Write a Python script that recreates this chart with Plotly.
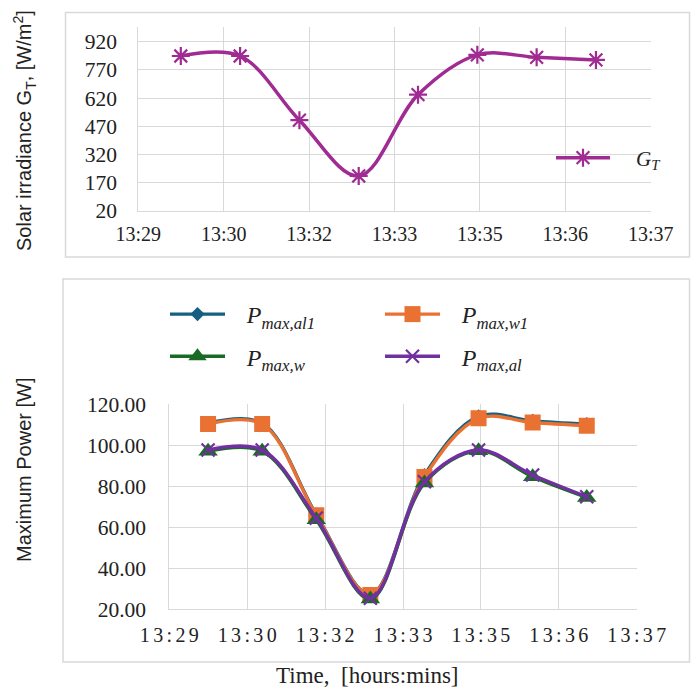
import plotly.graph_objects as go

# ---------------- data ----------------
tick_labels = ["13:29", "13:30", "13:32", "13:33", "13:35", "13:36", "13:37"]
tick_start = "13:28:48"
tick_step_s = 86.4

sample_time = ["13:29:31", "13:30:31", "13:31:31", "13:32:31",
               "13:33:31", "13:34:31", "13:35:31", "13:36:31"]

G_T = [844, 844, 502, 205, 638, 850, 837, 823]

P_max_al1 = [110.6, 110.6, 66.2, 27.3, 85.4, 114.0, 111.8, 110.2]
P_max_w1 = [110.2, 110.2, 65.8, 27.0, 84.5, 113.0, 111.0, 109.4]
P_max_w = [97.0, 97.0, 63.6, 25.0, 81.5, 97.2, 84.6, 74.5]
P_max_al = [97.6, 97.6, 64.4, 25.4, 82.1, 97.6, 85.4, 74.8]


def to_s(t):
    h, m, s = [int(v) for v in t.split(":")]
    return h * 3600 + m * 60 + s


t0 = to_s(tick_start)
x_vals = [to_s(t) - t0 for t in sample_time]
tick_vals = [i * tick_step_s for i in range(len(tick_labels))]
x_range = [0, tick_vals[-1]]

# ---------------- layout helpers ----------------
W, H = 692, 689


def px(x):
    return x / W


def py(y):
    return 1 - y / H


SERIF = "Liberation Serif"
SANS = "Liberation Sans"
GRID = "#d9d9d9"

fig = go.Figure()

# top chart
fig.add_trace(go.Scatter(
    x=x_vals, y=G_T, mode="lines+markers", name="\u2003<i>G<sub>T</sub></i>",
    line=dict(color="#A02B93", width=3.5, shape="spline", smoothing=1.0),
    marker=dict(symbol="asterisk-open", size=15, color="#A02B93",
                line=dict(color="#A02B93", width=2.2)),
    xaxis="x", yaxis="y", legend="legend"))

# bottom chart
LG = "\u2002\u2009"
specs = [
    (LG + "<i>P<sub>max,al1</sub></i>", P_max_al1, "#156082", "diamond", 11, "legend2", "a"),
    (LG + "<i>P<sub>max,w1</sub></i>", P_max_w1, "#E97132", "square", 16, "legend3", "b"),
    (LG + "<i>P<sub>max,w</sub></i>", P_max_w, "#196B24", "triangle-up", 17, "legend2", "c"),
    (LG + "<i>P<sub>max,al</sub></i>", P_max_al, "#7030A0", "x-thin-open", 13, "legend3", "d"),
]
for name, vals, col, sym, size, leg, grp in specs:
    mk = dict(symbol=sym, size=size, color=col, line=dict(color=col, width=0))
    if sym == "x-thin-open":
        mk["line"] = dict(color=col, width=2.2)
    fig.add_trace(go.Scatter(
        x=x_vals, y=vals, mode="lines+markers", name=name,
        line=dict(color=col, width=3.4, shape="spline", smoothing=1.0),
        marker=mk, xaxis="x2", yaxis="y2", legend=leg, legendgroup=grp))

axis_common = dict(showgrid=True, gridcolor=GRID, gridwidth=1, zeroline=False,
                   showline=True, linecolor=GRID, linewidth=1, automargin=False,
                   tickfont=dict(family=SERIF, size=20, color="#222"))
yfont = dict(family=SERIF, size=21.5, color="#222")

spaced_labels = ["\u2006".join(list(l)) for l in tick_labels]

fig.update_layout(
    width=W, height=H, margin=dict(l=0, r=0, t=0, b=0, autoexpand=False),
    paper_bgcolor="white", plot_bgcolor="white",
    xaxis=dict(domain=[px(138.3), px(650.7)], anchor="y", range=x_range,
               tickvals=tick_vals, ticktext=tick_labels, ticklabelstandoff=5,
               **axis_common),
    yaxis=dict(domain=[py(210.7), py(26.7)], anchor="x", range=[20, 1000],
               tick0=20, dtick=150, ticklabelstandoff=16,
               **{**axis_common, "tickfont": yfont}),
    xaxis2=dict(domain=[px(169.3), px(636.7)], anchor="y2", range=x_range,
                tickvals=tick_vals, ticktext=spaced_labels, ticklabelstandoff=8,
                **axis_common),
    yaxis2=dict(domain=[py(609.3), py(404)], anchor="x2", range=[20, 120],
                tick0=20, dtick=20, tickformat=".2f", ticklabelstandoff=18,
                **{**axis_common, "tickfont": yfont}),
    legend=dict(x=px(551), y=py(158), xanchor="left", yanchor="middle",
                itemwidth=54,
                bgcolor="rgba(0,0,0,0)", font=dict(family=SERIF, size=21, color="#222")),
    legend2=dict(x=px(165), y=py(292), xanchor="left", yanchor="top",
                 traceorder="grouped", tracegroupgap=8, itemwidth=55,
                 bgcolor="rgba(0,0,0,0)", font=dict(family=SERIF, size=24, color="#222")),
    legend3=dict(x=px(380), y=py(292), xanchor="left", yanchor="top",
                 traceorder="grouped", tracegroupgap=8, itemwidth=55,
                 bgcolor="rgba(0,0,0,0)", font=dict(family=SERIF, size=24, color="#222")),
    showlegend=True,
)

shapes = [
    dict(type="rect", xref="paper", yref="paper", x0=px(65.5), x1=px(689.5),
         y0=py(257), y1=py(12.5), line=dict(color=GRID, width=1.5), layer="below"),
    dict(type="rect", xref="paper", yref="paper", x0=px(63), x1=px(689.5),
         y0=py(662), y1=py(279), line=dict(color=GRID, width=1.5), layer="below"),
    dict(type="rect", xref="paper", yref="paper", x0=px(613), x1=px(668),
         y0=py(192), y1=py(113), line=dict(width=0), fillcolor="white", layer="between"),
]
fig.update_layout(shapes=shapes)

fig.add_annotation(text="Solar irradiance G<sub>T</sub>, [W/m<sup>2</sup>]",
                   xref="paper", yref="paper", x=px(24), y=py(131), textangle=-90,
                   xanchor="center", yanchor="middle",
                   showarrow=False, font=dict(family=SANS, size=20, color="#222"))
fig.add_annotation(text="Maximum Power [W]",
                   xref="paper", yref="paper", x=px(24), y=py(470), textangle=-90,
                   xanchor="center", yanchor="middle",
                   showarrow=False, font=dict(family=SANS, size=20, color="#222"))
fig.add_annotation(text="Time,  [hours:mins]",
                   xref="paper", yref="paper", x=px(368), y=py(675),
                   xanchor="center", yanchor="middle",
                   showarrow=False, font=dict(family=SERIF, size=23, color="#222"))

fig.write_html("out.html")
